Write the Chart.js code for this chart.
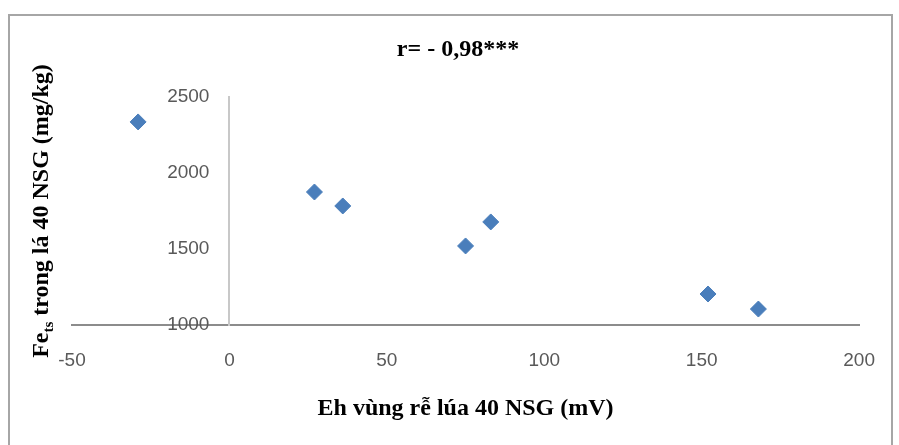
<!DOCTYPE html>
<html>
<head>
<meta charset="utf-8">
<script src="https://cdn.jsdelivr.net/npm/chart.js@4/dist/chart.umd.min.js"></script>
<style>
  html, body { margin: 0; padding: 0; background: #fff; }
  #wrap { width: 899px; height: 445px; }
</style>
</head>
<body>
<div id="wrap"><canvas id="grafico"></canvas></div>
<script>
// Eh (mV) va Fe trong la o 40 NSG
const ehValues = [-29, 27, 36, 75, 83, 152, 168];
const feValues = [2336, 1875, 1783, 1520, 1678, 1204, 1105];
const xTicks = [-50, 0, 50, 100, 150, 200];
const yTicks = [1000, 1500, 2000, 2500];

const titleText = 'r= - 0,98***';
const xTitle = 'Eh vùng rễ lúa 40 NSG (mV)';

const points = ehValues.map((x, i) => ({ x: x, y: feValues[i] }));
const tickFont = '19px "Liberation Sans"';

// khung, tieu de, nhan truc tung (co chi so duoi) va so tren truc tung
const textPlugin = {
  id: 'textPlugin',
  beforeDraw(chart) {
    const ctx = chart.ctx;
    ctx.save();
    ctx.strokeStyle = '#a6a6a6';
    ctx.lineWidth = 2;
    ctx.beginPath();
    ctx.moveTo(9, 460);
    ctx.lineTo(9, 15);
    ctx.lineTo(892, 15);
    ctx.lineTo(892, 460);
    ctx.stroke();
    ctx.restore();
  },
  afterDraw(chart) {
    const ctx = chart.ctx;
    const xs = chart.scales.x;
    const ys = chart.scales.y;

    // so tren truc tung, nam ben trai truc x = 0
    ctx.save();
    ctx.fillStyle = '#595959';
    ctx.font = tickFont;
    ctx.textAlign = 'right';
    ctx.textBaseline = 'middle';
    const axisX = xs.getPixelForValue(0);
    ys.ticks.forEach(t => {
      ctx.fillText(String(t.value), axisX - 20, ys.getPixelForValue(t.value));
    });
    ctx.restore();

    ctx.save();
    ctx.fillStyle = '#000';
    ctx.textBaseline = 'middle';
    ctx.textAlign = 'center';
    ctx.font = 'bold 24px "Liberation Serif"';
    ctx.fillText(titleText, 458, 50);

    // Fe_ts trong lá 40 NSG (mg/kg)
    ctx.translate(40, 211);
    ctx.rotate(-Math.PI / 2);
    const big = 'bold 24px "Liberation Serif"';
    const small = 'bold 15px "Liberation Serif"';
    const rest = ' trong lá 40 NSG (mg/kg)';
    ctx.font = big;
    const w1 = ctx.measureText('Fe').width;
    const w3 = ctx.measureText(rest).width;
    ctx.font = small;
    const w2 = ctx.measureText('ts').width;
    let x = -(w1 + w2 + w3) / 2;
    ctx.textAlign = 'left';
    ctx.textBaseline = 'alphabetic';
    ctx.font = big;
    ctx.fillText('Fe', x, 8);
    x += w1;
    ctx.font = small;
    ctx.fillText('ts', x, 13);
    x += w2;
    ctx.font = big;
    ctx.fillText(rest, x, 8);
    ctx.restore();
  }
};

new Chart(document.getElementById('grafico'), {
  type: 'scatter',
  data: {
    datasets: [{
      data: points,
      pointStyle: 'rectRot',
      pointRadius: 8,
      pointHoverRadius: 8,
      backgroundColor: '#4a7ebb',
      borderColor: '#4a7ebb',
      borderWidth: 1
    }]
  },
  options: {
    responsive: true,
    maintainAspectRatio: false,
    animation: false,
    layout: { padding: { left: 72, right: 26, top: 97, bottom: 0 } },
    plugins: {
      legend: { display: false },
      tooltip: { enabled: false },
      title: { display: false }
    },
    scales: {
      x: {
        type: 'linear',
        position: 'bottom',
        min: -50,
        max: 200,
        afterBuildTicks: s => { s.ticks = xTicks.map(v => ({ value: v })); },
        afterFit: s => { s.height = 120; },
        grid: { display: true, drawOnChartArea: false, drawTicks: false, color: 'rgba(0,0,0,0)' },
        border: { display: true, color: '#8c8c8c', width: 2 },
        ticks: { padding: 24, color: '#595959', font: { family: 'Liberation Sans', size: 19 } },
        title: {
          display: true,
          text: xTitle,
          color: '#000',
          font: { family: 'Liberation Serif', size: 24, weight: 'bold' },
          padding: { top: 10, bottom: 22 }
        }
      },
      y: {
        type: 'linear',
        position: { x: 0 },
        min: 1000,
        max: 2500,
        afterBuildTicks: s => { s.ticks = yTicks.map(v => ({ value: v })); },
        grid: { display: true, drawOnChartArea: false, drawTicks: false, color: 'rgba(0,0,0,0)' },
        border: { display: true, color: '#c8c8c8', width: 2 },
        ticks: { display: false }
      }
    }
  },
  plugins: [textPlugin]
});
</script>
</body>
</html>
